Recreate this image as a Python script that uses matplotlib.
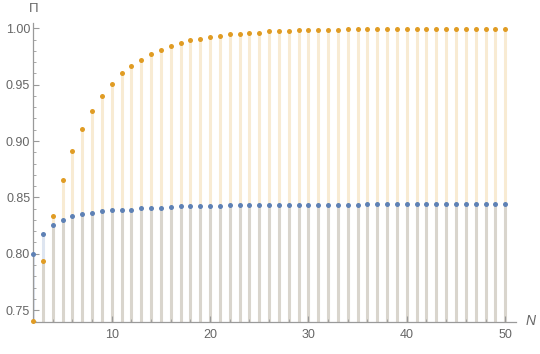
import matplotlib
matplotlib.use("Agg")
import matplotlib.pyplot as plt
from matplotlib.ticker import FixedLocator
import numpy as np

plt.rcParams['font.family'] = ['Liberation Sans', 'DejaVu Sans']

N = list(range(2, 51))
orange_vals = [0.7400, 0.7937, 0.8336, 0.8655, 0.8910, 0.9110, 0.9270, 0.9400, 0.9510,
               0.9604, 0.9668, 0.9722, 0.9775, 0.9810, 0.9840, 0.9866, 0.9893, 0.9908,
               0.9920, 0.9934, 0.9947, 0.9947, 0.9958, 0.9958, 0.9973, 0.9973, 0.9973,
               0.9988, 0.9988, 0.9988, 0.9988, 0.9988, 0.9990, 0.9990, 0.9995, 0.9995,
               0.9995, 0.9995, 0.9995, 0.9995, 0.9995, 0.9995, 0.9995, 0.9995, 0.9995,
               0.9995, 0.9995, 0.9995, 0.9995]
blue_vals = [0.8000, 0.8179, 0.8256, 0.8300, 0.8336, 0.8350, 0.8363, 0.8378, 0.8390,
             0.8390, 0.8390, 0.8404, 0.8404, 0.8404, 0.8416, 0.8419, 0.8419, 0.8419,
             0.8419, 0.8419, 0.8434, 0.8434, 0.8434, 0.8434, 0.8434, 0.8434, 0.8434,
             0.8434, 0.8434, 0.8434, 0.8434, 0.8434, 0.8434, 0.8434, 0.8445, 0.8445,
             0.8445, 0.8445, 0.8445, 0.8445, 0.8445, 0.8445, 0.8445, 0.8445, 0.8445,
             0.8445, 0.8445, 0.8445, 0.8445]
x_label = "N"
y_label = "Π"

blue = (0.368, 0.507, 0.71)
orange = (0.88, 0.611, 0.142)
axis_gray = "#9a9a9a"
text_gray = "#666666"

ymin, ymax = 0.7394, 1.005
xmin, xmax = 2, 51.1

fig = plt.figure(figsize=(5.4, 3.54), dpi=100)
ax = fig.add_axes([33/540, 1-322/354, (516-33)/540, (322-22.7)/354])

ax.vlines(N, ymin, orange_vals, colors=[orange], alpha=0.2, linewidth=2.2, zorder=1)
ax.vlines(N, ymin, blue_vals, colors=[blue], alpha=0.2, linewidth=2.2, zorder=1)
ax.plot(N, orange_vals, 'o', color=orange, markersize=3.6, markeredgewidth=0, zorder=3, clip_on=False)
ax.plot(N, blue_vals, 'o', color=blue, markersize=3.6, markeredgewidth=0, zorder=3, clip_on=False)

ax.set_xlim(xmin, xmax)
ax.set_ylim(ymin, ymax)

for s in ['top', 'right']:
    ax.spines[s].set_visible(False)
for s in ['left', 'bottom']:
    ax.spines[s].set_color(axis_gray)
    ax.spines[s].set_linewidth(0.9)

ax.xaxis.set_major_locator(FixedLocator([10, 20, 30, 40, 50]))
ax.xaxis.set_minor_locator(FixedLocator([x for x in range(4, 51, 2) if x % 10 != 0]))
ax.yaxis.set_major_locator(FixedLocator([0.75, 0.80, 0.85, 0.90, 0.95, 1.00]))
ax.yaxis.set_minor_locator(FixedLocator([v/100 for v in range(74, 101) if v % 5 != 0]))
ax.yaxis.set_major_formatter(matplotlib.ticker.FuncFormatter(lambda v, p: f"{v:.2f}"))

ax.tick_params(axis='both', which='major', direction='in', length=4.5, width=0.8,
               color=axis_gray, labelcolor=text_gray, labelsize=9)
ax.tick_params(axis='both', which='minor', direction='in', length=2.5, width=0.6,
               color=axis_gray)
ax.tick_params(axis='x', which='major', pad=5)
ax.tick_params(axis='y', which='major', pad=2)

fig.text(531/540, 1-321/354, x_label, ha='center', va='center', fontsize=10,
         style='italic', color=text_gray)
fig.text(33.5/540, 1-12/354, y_label, ha='center', va='baseline', fontsize=9.5,
         color=text_gray)

fig.savefig("out.png", dpi=100)
